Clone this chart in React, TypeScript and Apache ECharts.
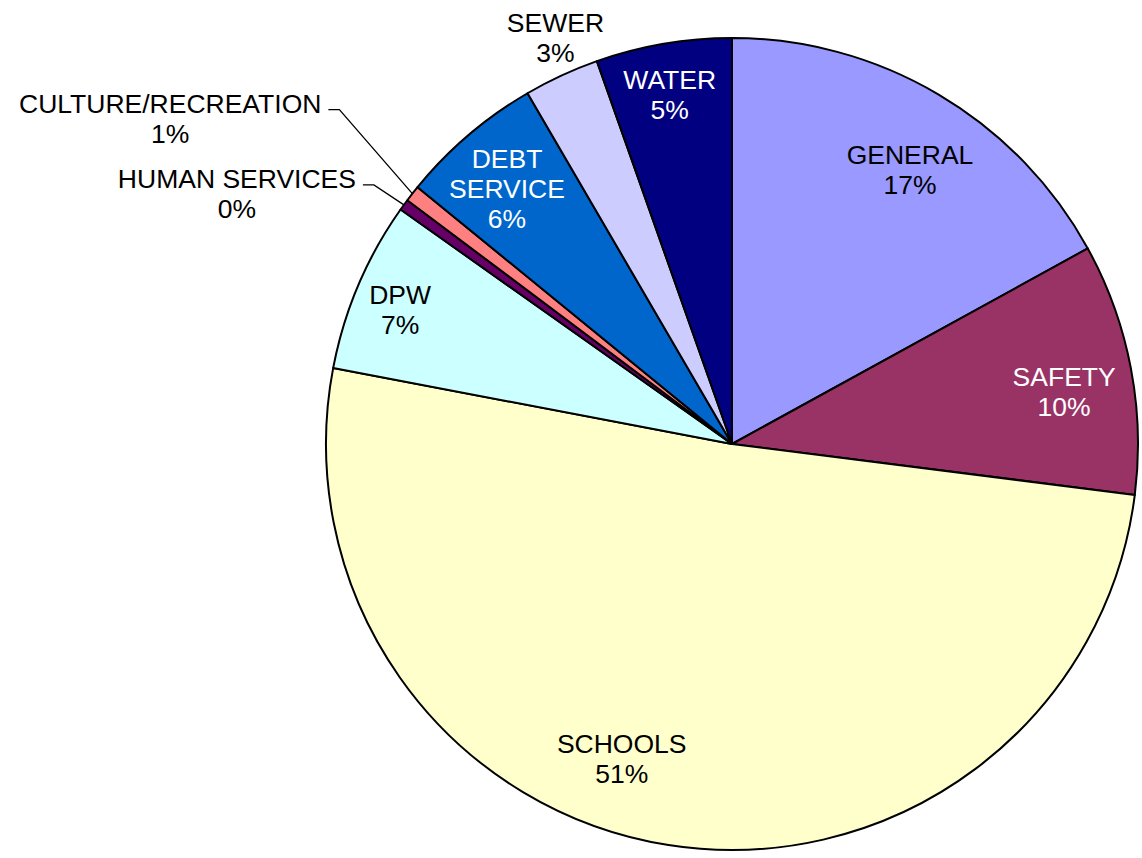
import React, { useEffect, useRef } from "react";
import * as echarts from "echarts";

// ---- data ----
const categories = [
  "GENERAL",
  "SAFETY",
  "SCHOOLS",
  "DPW",
  "HUMAN SERVICES",
  "CULTURE/RECREATION",
  "DEBT SERVICE",
  "SEWER",
  "WATER",
];
const values = [17.0, 10.0, 51.0, 6.8, 0.45, 0.65, 5.7, 3.0, 5.4];

// ---- styles ----
const sliceColors = [
  "#9999FF",
  "#993366",
  "#FFFFCC",
  "#CCFFFF",
  "#660066",
  "#FF8080",
  "#0066CC",
  "#CCCCFF",
  "#000080",
];
const labelColors = ["#000", "#fff", "#000", "#000", "#000", "#000", "#fff", "#000", "#fff"];
const outsideNames = ["HUMAN SERVICES", "CULTURE/RECREATION", "SEWER"];
const wrapNames: Record<string, string> = { "DEBT SERVICE": "DEBT\nSERVICE" };

const CX = 732;
const CY = 444;
const R = 406;
const FONT = "'Liberation Sans', Arial, sans-serif";
const FONT_SIZE = 26.5;
const LINE_H = 30;

// inside label placement: angular shift (deg) from slice middle, radius fraction
const insidePlacement: Record<string, { da: number; rf: number }> = {
  GENERAL: { da: 2.4, rf: 0.805 },
  SAFETY: { da: 1.9, rf: 0.828 },
  SCHOOLS: { da: 10.3, rf: 0.822 },
  DPW: { da: -1.0, rf: 0.882 },
  "DEBT SERVICE": { da: -0.9, rf: 0.838 },
  WATER: { da: -0.4, rf: 0.873 },
};
// outside labels with leader lines: elbow offset from slice edge, horizontal run
const leaderPlacement: Record<string, { ex: number; ey: number; run: number }> = {
  "CULTURE/RECREATION": { ex: -73, ey: -84, run: 11 },
  "HUMAN SERVICES": { ex: -30, ey: -20, run: 11 },
};

export default function App() {
  const ref = useRef<HTMLDivElement>(null);

  useEffect(() => {
    if (!ref.current) return;
    const chart = echarts.init(ref.current, undefined, { renderer: "svg" });

    const total = values.reduce((a, b) => a + b, 0);
    const mids: number[] = [];
    let cum = 0;
    values.forEach((v) => {
      mids.push(((cum + v / 2) / total) * Math.PI * 2);
      cum += v;
    });

    const data = categories.map((name, i) => {
      const outside = outsideNames.includes(name);
      const hasLeader = !!leaderPlacement[name];
      return {
        name,
        value: values[i],
        itemStyle: { color: sliceColors[i] },
        label: {
          position: outside ? "outside" : "inside",
          color: labelColors[i],
          rich: {
            a: {
              align: "center",
              color: labelColors[i],
              fontFamily: FONT,
              fontSize: FONT_SIZE,
              lineHeight: LINE_H,
            },
          },
        },
        labelLine: {
          show: hasLeader,
          length: 10,
          length2: 10,
          lineStyle: { color: "#000", width: 1.3 },
        },
      };
    });

    chart.setOption({
      animation: false,
      backgroundColor: "#ffffff",
      series: [
        {
          type: "pie",
          center: [CX, CY],
          radius: R,
          startAngle: 90,
          clockwise: true,
          avoidLabelOverlap: false,
          silent: true,
          emphasis: { disabled: true },
          itemStyle: { borderColor: "#000", borderWidth: 2 },
          label: {
            show: true,
            fontFamily: FONT,
            fontSize: FONT_SIZE,
            lineHeight: LINE_H,
            formatter: (p: any) => {
              const n = wrapNames[p.name] || p.name;
              const lines = n.split("\n").map((s: string) => `{a|${s}}`);
              lines.push(`{a|${Math.round(p.percent)}%}`);
              return lines.join("\n");
            },
          },
          labelLayout: (params: any) => {
            const i = params.dataIndex;
            const name = categories[i];
            const mid = mids[i];
            const ins = insidePlacement[name];
            if (ins) {
              const a = mid + (ins.da * Math.PI) / 180;
              const r = ins.rf * R;
              return {
                x: CX + r * Math.sin(a),
                y: CY - r * Math.cos(a),
                align: "center",
                verticalAlign: "middle",
              };
            }
            const edge = [CX + R * Math.sin(mid), CY - R * Math.cos(mid)];
            const lead = leaderPlacement[name];
            if (lead) {
              const elbow = [edge[0] + lead.ex, edge[1] + lead.ey];
              const end = [elbow[0] - lead.run, elbow[1]];
              return {
                x: end[0] - 7,
                y: end[1] - 21,
                align: "right",
                verticalAlign: "top",
                labelLinePoints: [edge, elbow, end],
              };
            }
            // label sitting just above the slice edge (SEWER)
            return {
              x: edge[0] - 6,
              y: edge[1] - 8,
              align: "center",
              verticalAlign: "bottom",
            };
          },
          data,
        },
      ],
    });

    return () => chart.dispose();
  }, []);

  return (
    <div
      ref={ref}
      style={{ position: "fixed", left: 0, top: 0, width: 1142, height: 858, background: "#fff" }}
    />
  );
}
